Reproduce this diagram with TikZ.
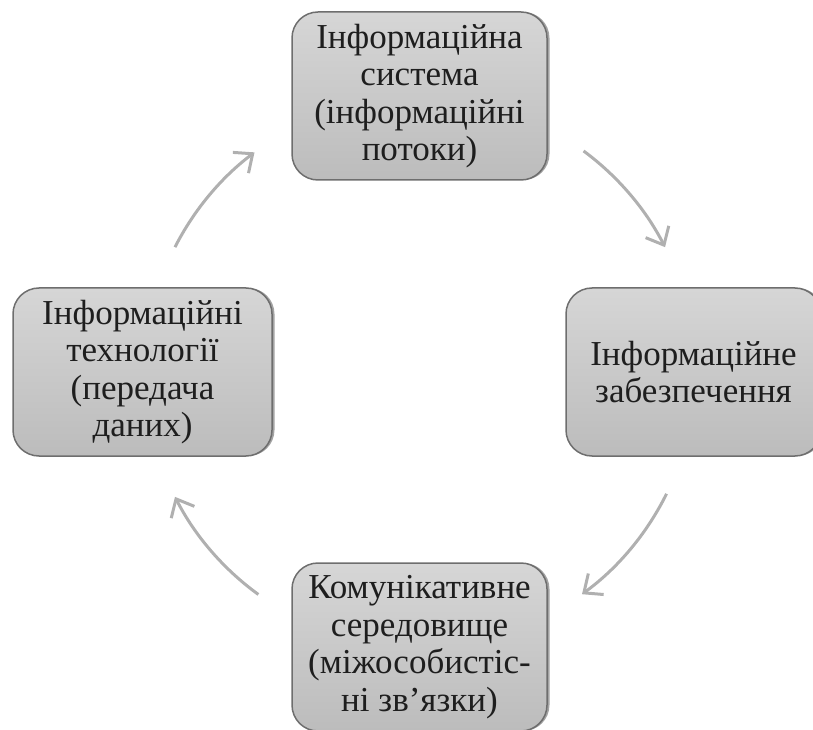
\documentclass[tikz,border=0pt]{standalone}
\usepackage{fontspec}
\setmainfont{Liberation Serif}
\usetikzlibrary{arrows.meta,shadows}
\definecolor{boxtop}{RGB}{214,214,214}
\definecolor{boxbot}{RGB}{188,188,188}
\definecolor{boxline}{RGB}{110,110,110}
\definecolor{arrcol}{RGB}{176,176,176}
\definecolor{txt}{RGB}{30,30,30}
\tikzset{
  box/.style={rectangle, rounded corners=26pt, minimum width=255pt, minimum height=168pt,
    draw=boxline, line width=1.5pt, top color=boxtop, bottom color=boxbot,
    align=center, text=txt, font=\fontsize{35}{37.5}\selectfont,
    drop shadow={shadow xshift=2.5pt, shadow yshift=0pt, opacity=0.6, fill=black!60}},
  cyc/.style={draw=arrcol, line width=3pt, -{Straight Barb[length=15pt,width=26pt]}}
}
\begin{document}
\begin{tikzpicture}[x=1pt,y=1pt]
\useasboundingbox (0,0) rectangle (813,729);
\clip (0,0) rectangle (813,729);
\coordinate (c) at (420,357);
\node[box] (top) at (419.5,633) {Інформаційна\\система\\(інформаційні\\потоки)};
\node[box] (right) at (693.5,357) {Інформаційне\\забезпечення};
\node[box, minimum width=259pt] (left) at (142.5,357) {Інформаційні\\технології\\(передача\\даних)};
\node[box] (bottom) at (419.5,82) {Комунікативне\\середовище\\(міжособистіс-\\ні зв{\char"0027}язки)};
\draw[cyc] ([shift={(c)}]53.5:275pt) arc[start angle=53.5, end angle=27, radius=275pt];
\draw[cyc] ([shift={(c)}]-26.3:275pt) arc[start angle=-26.3, end angle=-53.9, radius=275pt];
\draw[cyc] ([shift={(c)}]-126:275pt) arc[start angle=-126, end angle=-153, radius=275pt];
\draw[cyc] ([shift={(c)}]153:275pt) arc[start angle=153, end angle=127, radius=275pt];
\end{tikzpicture}
\end{document}
